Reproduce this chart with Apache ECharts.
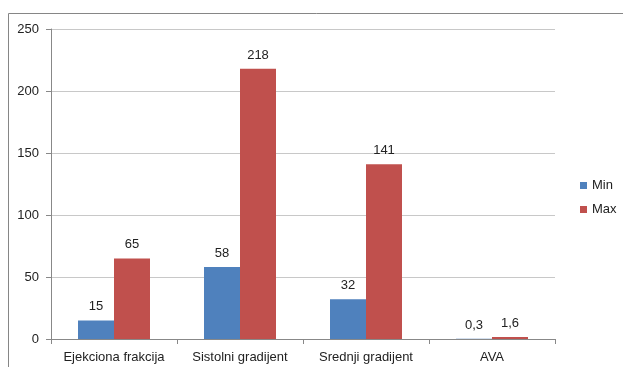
<!DOCTYPE html>
<html><head><meta charset="utf-8">
<script src="https://cdn.jsdelivr.net/npm/echarts@6/dist/echarts.min.js"></script>
<style>html,body{margin:0;padding:0;background:#fff}#c{width:623px;height:367px}</style>
</head><body><div id="c"></div>
<script>
const categories = ['Ejekciona frakcija', 'Sistolni gradijent', 'Srednji gradijent', 'AVA'];
const minValues = [15, 58, 32, 0.3];
const maxValues = [65, 218, 141, 1.6];
const yTicks = [0, 50, 100, 150, 200, 250];

const chart = echarts.init(document.getElementById('c'));
const fnt = 'Liberation Sans, Arial, sans-serif';
const lbl = {
  show: true, position: 'top', distance: 7, color: '#222', fontSize: 13, fontFamily: fnt,
  formatter: p => String(p.value).replace('.', ',')
};
chart.setOption({
  animation: false,
  graphic: [{
    type: 'rect', shape: { x: 8.5, y: 13.5, width: 640, height: 400 },
    style: { fill: 'none', stroke: '#868686', lineWidth: 1 }, silent: true
  }],
  grid: { left: 51, right: 68, top: 29, bottom: 28, containLabel: false },
  legend: {
    orient: 'vertical', left: 575, top: 174, itemWidth: 7, itemHeight: 7, itemGap: 11,
    icon: 'rect', textStyle: { fontSize: 13, fontFamily: fnt, color: '#222' },
    data: ['Min', 'Max']
  },
  xAxis: {
    type: 'category', data: categories,
    axisLine: { lineStyle: { color: '#888' } },
    axisTick: { show: true, length: 5, alignWithLabel: false, lineStyle: { color: '#888' } },
    axisLabel: { interval: 0, hideOverlap: false, fontSize: 13, fontFamily: fnt, color: '#222', margin: 12 }
  },
  yAxis: {
    type: 'value', min: yTicks[0], max: yTicks[yTicks.length - 1], interval: 50,
    axisLine: { show: true, lineStyle: { color: '#888' } },
    axisTick: { show: true, length: 5, lineStyle: { color: '#888' } },
    axisLabel: { fontSize: 13, fontFamily: fnt, color: '#222', margin: 12 },
    splitLine: { lineStyle: { color: '#c8c8c8' } }
  },
  series: [
    { name: 'Min', type: 'bar', data: minValues, barWidth: 36, barGap: '0%',
      itemStyle: { color: '#4F81BD' }, label: lbl },
    { name: 'Max', type: 'bar', data: maxValues, barWidth: 36, barGap: '0%',
      itemStyle: { color: '#C0504D' }, label: lbl }
  ]
});
</script></body></html>
